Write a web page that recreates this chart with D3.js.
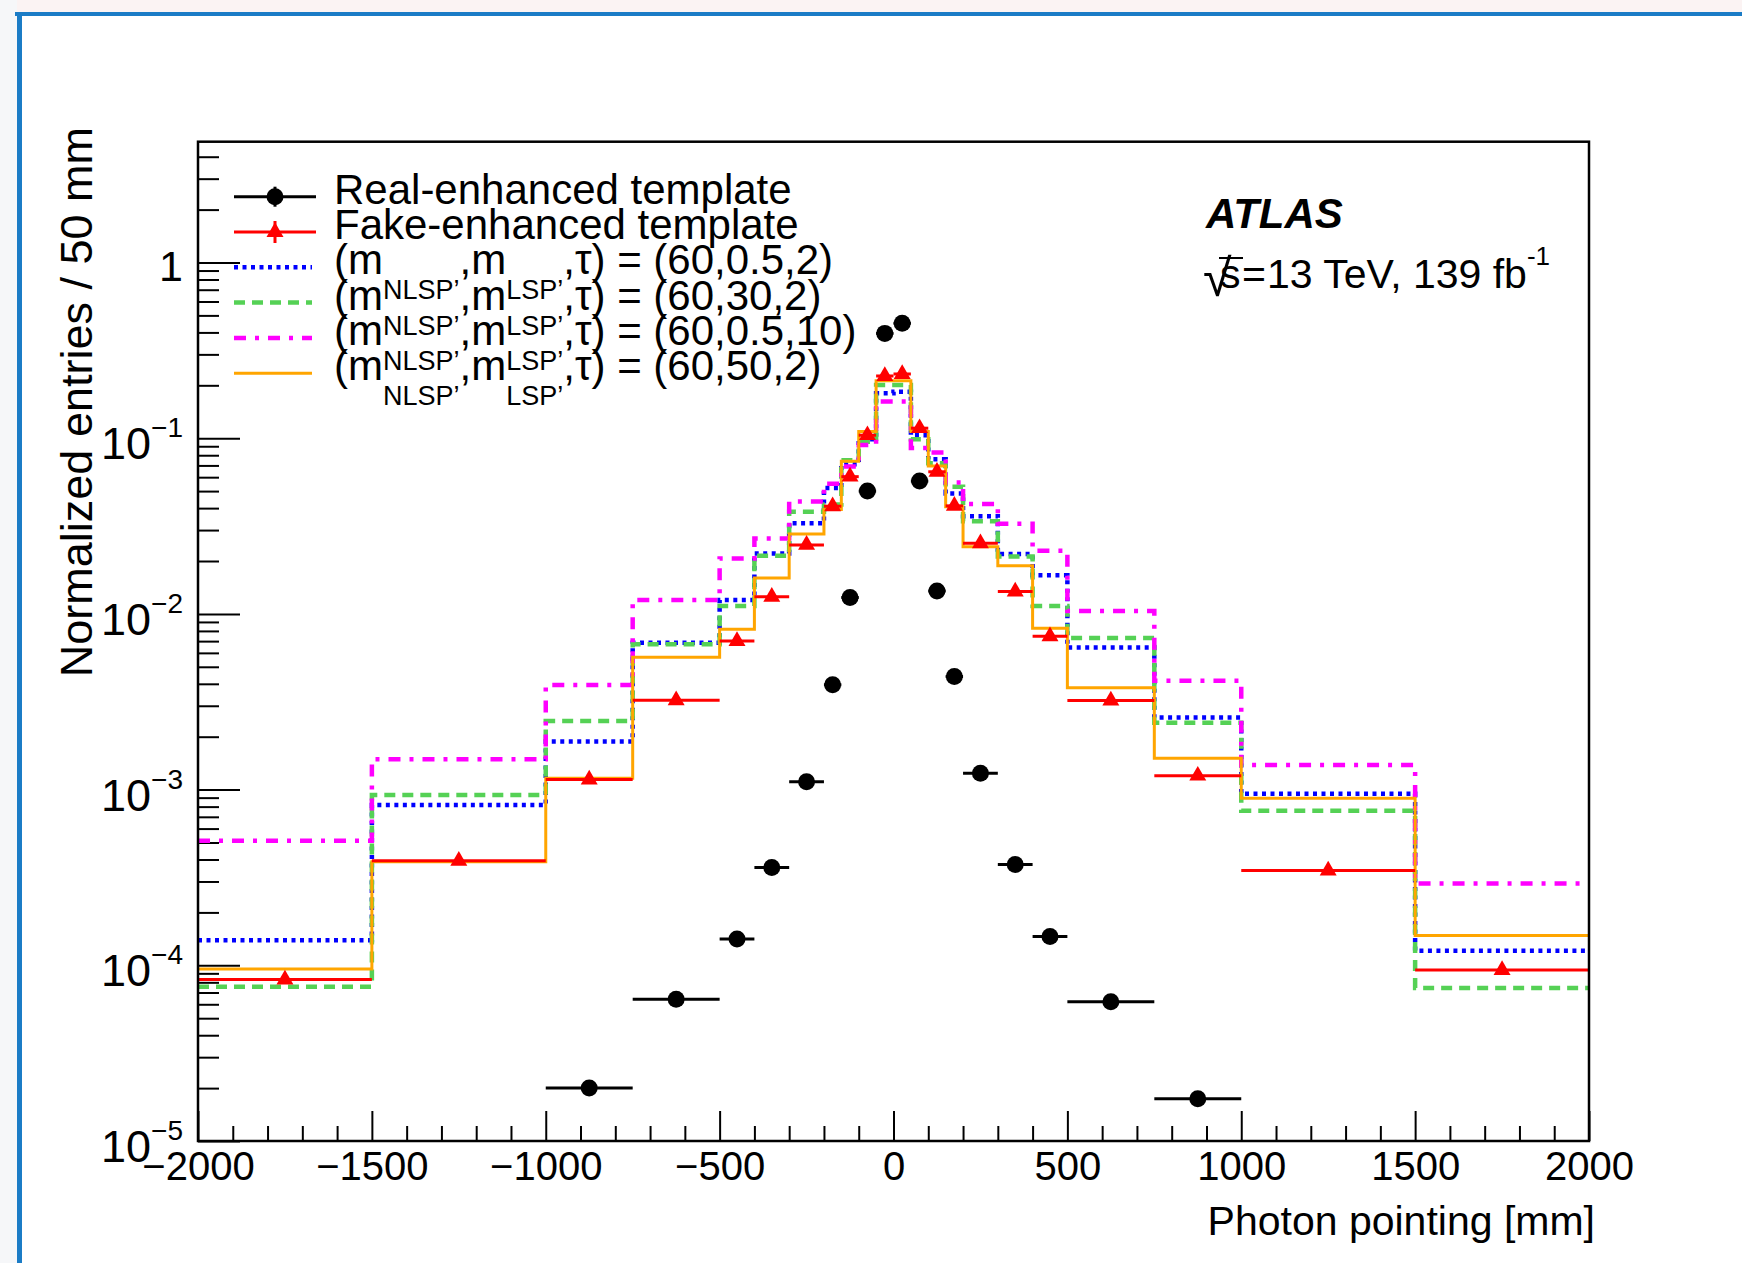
<!DOCTYPE html>
<html>
<head>
<meta charset="utf-8">
<script src="https://cdn.jsdelivr.net/npm/d3@7"></script>
<style>
html,body{margin:0;padding:0;background:#ffffff;}
svg{display:block;font-family:"Liberation Sans",Arial,Helvetica,sans-serif;}
</style>
</head>
<body>
<svg id="chart" width="1742" height="1263"></svg>
<script>
// ---------------- data ----------------
const binEdges = [-2000,-1500,-1000,-750,-500,-400,-300,-200,-150,-100,-50,0,50,100,150,200,300,400,500,750,1000,1500,2000];

// Real-enhanced template (black points); null = empty bin
const realEnhanced = [null,null,2.0e-5,6.4e-5,1.41e-4,3.6e-4,1.11e-3,3.95e-3,0.0124,0.050,0.395,
                      0.451,0.057,0.0135,0.0044,1.24e-3,3.75e-4,1.46e-4,6.2e-5,1.74e-5,null,null];
// Fake-enhanced template (red triangles)
const fakeEnhanced = [8.3e-5,3.93e-4,1.14e-3,3.22e-3,7.0e-3,0.0125,0.0247,0.0410,0.0604,0.104,0.226,
                      0.232,0.114,0.0644,0.0412,0.0252,0.0134,7.45e-3,3.21e-3,1.20e-3,3.46e-4,9.4e-5];
// (60,0.5,2) blue dotted
const sig_60_05_2 = [1.39e-4,8.17e-4,1.88e-3,6.86e-3,0.0120,0.0221,0.0328,0.052,0.071,0.0986,0.180,
                     0.184,0.104,0.0759,0.0485,0.0360,0.0219,0.0166,6.44e-3,2.57e-3,9.48e-4,1.21e-4];
// (60,30,2) green dashed
const sig_60_30_2 = [7.55e-5,9.31e-4,2.46e-3,6.71e-3,0.0111,0.0214,0.0382,0.042,0.075,0.0955,0.201,
                     0.201,0.0986,0.072,0.053,0.0337,0.0212,0.0111,7.29e-3,2.40e-3,7.57e-4,7.43e-5];
// (60,0.5,10) magenta dash-dot
const sig_60_05_10 = [5.12e-4,1.49e-3,3.94e-3,0.0120,0.0207,0.0269,0.0436,0.055,0.069,0.0915,0.162,
                      0.162,0.088,0.0828,0.056,0.0422,0.0326,0.0229,0.01038,4.17e-3,1.38e-3,2.92e-4];
// (60,50,2) orange solid
const sig_60_50_2 = [9.53e-5,3.89e-4,1.16e-3,5.66e-3,8.17e-3,0.0160,0.0285,0.0393,0.074,0.109,0.212,
                     0.212,0.109,0.0695,0.0407,0.0241,0.0188,8.28e-3,3.80e-3,1.51e-3,8.93e-4,1.48e-4];

const xMajorTicks = [-2000,-1500,-1000,-500,0,500,1000,1500,2000];
const yDecadeTicks = [1e-5,1e-4,1e-3,1e-2,1e-1,1];
const yDecadeExponents = [-5,-4,-3,-2,-1,0];
const legendPointLabels = ["Real-enhanced template","Fake-enhanced template"];
const legendSignalValues = ["(60,0.5,2)","(60,30,2)","(60,0.5,10)","(60,50,2)"];
const xTitle = "Photon pointing [mm]";
const yTitle = "Normalized entries / 50 mm";

// ---------------- layout ----------------
const svg = d3.select("#chart");
const L = 198, R = 1589, T = 141.7, B = 1141;

// page decoration (screenshot frame)
svg.append("rect").attr("x",0).attr("y",0).attr("width",1742).attr("height",1263).attr("fill","#ffffff");
svg.append("rect").attr("x",0).attr("y",0).attr("width",1742).attr("height",12).attr("fill","#fbf3f3");
svg.append("rect").attr("x",0).attr("y",0).attr("width",17).attr("height",1263).attr("fill","#f6f7f9");
svg.append("rect").attr("x",15).attr("y",12).attr("width",1727).attr("height",4).attr("fill","#1b7cc6");
svg.append("rect").attr("x",17).attr("y",12).attr("width",5).attr("height",1251).attr("fill","#1b7cc6");

const x = d3.scaleLinear().domain([-2000,2000]).range([L,R]);
const y = d3.scaleLog().domain([1e-5,4.87]).range([B,T]);

// ---------------- axes ----------------
const xMinor = d3.range(-2000,2001,100).filter(v => !xMajorTicks.includes(v));
const gxMinor = svg.append("g").attr("transform",`translate(0,${B})`)
  .call(d3.axisBottom(x).tickValues(xMinor).tickSize(-15).tickSizeOuter(0).tickFormat(""));
const gxMajor = svg.append("g").attr("transform",`translate(0,${B})`)
  .call(d3.axisBottom(x).tickValues(xMajorTicks).tickSize(-30).tickSizeOuter(0).tickPadding(11)
        .tickFormat(d => d < 0 ? "\u2212" + Math.abs(d) : String(d)));
gxMajor.selectAll("text").attr("font-size",40).attr("fill","#000")
  .attr("font-family","'Liberation Sans',Arial,sans-serif");

const yMinor = [];
for (let e = -5; e <= 0; e++) for (let m = 2; m <= 9; m++) { const v = m*Math.pow(10,e); if (v < 4.87) yMinor.push(v); }
const gyMinor = svg.append("g").attr("transform",`translate(${L},0)`)
  .call(d3.axisLeft(y).tickValues(yMinor).tickSize(-21).tickSizeOuter(0).tickFormat(""));
const gyMajor = svg.append("g").attr("transform",`translate(${L},0)`)
  .call(d3.axisLeft(y).tickValues(yDecadeTicks).tickSize(-42).tickSizeOuter(0).tickFormat(""));
[gxMinor,gxMajor,gyMinor,gyMajor].forEach(g => {
  g.select(".domain").remove();
  g.selectAll("line").attr("stroke","#000").attr("stroke-width",2);
});

// y decade labels (10^n)
yDecadeTicks.forEach((v,i) => {
  const e = yDecadeExponents[i];
  const t = svg.append("text").attr("x",183).attr("text-anchor","end").attr("fill","#000").attr("font-size",45);
  if (e === 0) {
    t.attr("y", y(v) + 19).attr("font-size",43).text("1");
  } else {
    t.attr("y", y(v) + 21);
    t.append("tspan").text("10");
    t.append("tspan").attr("dy",-22).attr("font-size",28).text("\u2212" + Math.abs(e));
  }
});

// axis titles
svg.append("text").attr("x",1595).attr("y",1235).attr("text-anchor","end")
  .attr("font-size",41).attr("fill","#000").text(xTitle);
svg.append("text").attr("transform","translate(92,127) rotate(-90)").attr("text-anchor","end")
  .attr("font-size",45).attr("fill","#000").text(yTitle);

// ---------------- histograms ----------------
const stepLine = d3.line().x(d => x(d[0])).y(d => y(d[1])).curve(d3.curveStepAfter);
function stepPts(vals){
  const p = vals.map((v,i) => [binEdges[i], v]);
  p.push([binEdges[binEdges.length-1], vals[vals.length-1]]);
  return p;
}
const signals = [
  {vals: sig_60_05_2,  color:"#0000ff", width:4.5, dash:"4,4.5",   label:legendSignalValues[0]},
  {vals: sig_60_30_2,  color:"#55d155", width:4.5, dash:"11,7",    label:legendSignalValues[1]},
  {vals: sig_60_05_10, color:"#ff00ff", width:4.5, dash:"12,9,4,9",label:legendSignalValues[2]},
  {vals: sig_60_50_2,  color:"#ffa500", width:3,   dash:null,      label:legendSignalValues[3]}
];
const clip = svg.append("clipPath").attr("id","plotclip");
clip.append("rect").attr("x",L).attr("y",T).attr("width",R-L).attr("height",B-T);
const gh = svg.append("g").attr("clip-path","url(#plotclip)");
signals.forEach(s => {
  gh.append("path").attr("d", stepLine(stepPts(s.vals)))
    .attr("fill","none").attr("stroke",s.color).attr("stroke-width",s.width)
    .attr("stroke-dasharray", s.dash).attr("stroke-linecap","butt");
});

// ---------------- fake-enhanced (red) ----------------
const bins = binEdges.slice(0,-1).map((lo,i) => ({lo, hi: binEdges[i+1], c:(lo+binEdges[i+1])/2}));
const fakeData = bins.map((b,i) => ({...b, v: fakeEnhanced[i]})).filter(d => d.v != null);
const gRed = gh.append("g");
gRed.selectAll("line").data(fakeData).join("line")
  .attr("x1", d => x(d.lo)).attr("x2", d => x(d.hi))
  .attr("y1", d => y(d.v)).attr("y2", d => y(d.v))
  .attr("stroke","#ff0000").attr("stroke-width",3);
const tri = d3.symbol().type(d3.symbolTriangle).size(125);
gRed.selectAll("path").data(fakeData).join("path")
  .attr("d", tri).attr("transform", d => `translate(${x(d.c)},${y(d.v)})`)
  .attr("fill","#ff0000");

// ---------------- real-enhanced (black) ----------------
const realData = bins.map((b,i) => ({...b, v: realEnhanced[i]})).filter(d => d.v != null);
const gBlk = gh.append("g");
gBlk.selectAll("line").data(realData).join("line")
  .attr("x1", d => x(d.lo)).attr("x2", d => x(d.hi))
  .attr("y1", d => y(d.v)).attr("y2", d => y(d.v))
  .attr("stroke","#000").attr("stroke-width",3);
gBlk.selectAll("circle").data(realData).join("circle")
  .attr("cx", d => x(d.c)).attr("cy", d => y(d.v)).attr("r",8.5).attr("fill","#000");

// frame
svg.append("rect").attr("x",L).attr("y",T).attr("width",R-L).attr("height",B-T)
  .attr("fill","none").attr("stroke","#000").attr("stroke-width",2.5);

// ---------------- legend ----------------
const legX1 = 234, legX2 = 316, legMid = 275, legText = 334, legY0 = 196.7, legDY = 35.3;
const lg = svg.append("g");
// row 1 black
lg.append("line").attr("x1",legX1).attr("x2",legX2).attr("y1",legY0).attr("y2",legY0).attr("stroke","#000").attr("stroke-width",3);
lg.append("line").attr("x1",legMid).attr("x2",legMid).attr("y1",legY0-10).attr("y2",legY0+10).attr("stroke","#000").attr("stroke-width",3);
lg.append("circle").attr("cx",legMid).attr("cy",legY0).attr("r",8.5).attr("fill","#000");
// row 2 red
const ly2 = legY0 + legDY;
lg.append("line").attr("x1",legX1).attr("x2",legX2).attr("y1",ly2).attr("y2",ly2).attr("stroke","#ff0000").attr("stroke-width",3);
lg.append("line").attr("x1",legMid).attr("x2",legMid).attr("y1",ly2-11).attr("y2",ly2+11).attr("stroke","#ff0000").attr("stroke-width",3);
lg.append("path").attr("d",tri).attr("transform",`translate(${legMid},${ly2})`).attr("fill","#ff0000");
legendPointLabels.forEach((t,i) => {
  lg.append("text").attr("x",legText).attr("y",legY0 + i*legDY + 7).attr("font-size",42).attr("fill","#000").text(t);
});
// signal rows
signals.forEach((s,i) => {
  const yy = legY0 + (i+2)*legDY;
  lg.append("line").attr("x1",legX1).attr("x2",legX2 - 4).attr("y1",yy).attr("y2",yy)
    .attr("stroke",s.color).attr("stroke-width",s.width).attr("stroke-dasharray",s.dash);
  const t = lg.append("text").attr("x",legText).attr("y",yy + 7).attr("font-size",42).attr("fill","#000");
  t.append("tspan").text("(m");
  t.append("tspan").attr("dy",25).attr("font-size",27).text("NLSP\u2019");
  t.append("tspan").attr("dy",-25).text(",m");
  t.append("tspan").attr("dy",25).attr("font-size",27).text("LSP\u2019");
  t.append("tspan").attr("dy",-25).text(",\u03c4) = " + s.label);
});

// ---------------- ATLAS label ----------------
const lumiY = 288;
svg.append("text").attr("x",1206).attr("y",228).attr("font-size",42).attr("font-weight","bold")
  .attr("font-style","italic").attr("fill","#000").text("ATLAS");
svg.append("text").attr("x",1203).attr("y",lumiY + 8).attr("font-size",52).attr("fill","#000").text("\u221a");
svg.append("line").attr("x1",1219).attr("x2",1243).attr("y1",lumiY - 30).attr("y2",lumiY - 30).attr("stroke","#000").attr("stroke-width",2);
svg.append("text").attr("x",1220).attr("y",lumiY).attr("font-size",41).attr("fill","#000").text("s");
svg.append("text").attr("x",1242).attr("y",lumiY).attr("font-size",41).attr("fill","#000").text("=");
const lumi = svg.append("text").attr("x",1267).attr("y",lumiY).attr("font-size",41).attr("fill","#000");
lumi.append("tspan").text("13 TeV, 139 fb");
lumi.append("tspan").attr("dy",-23).attr("font-size",26).text("-1");
</script>
</body>
</html>
